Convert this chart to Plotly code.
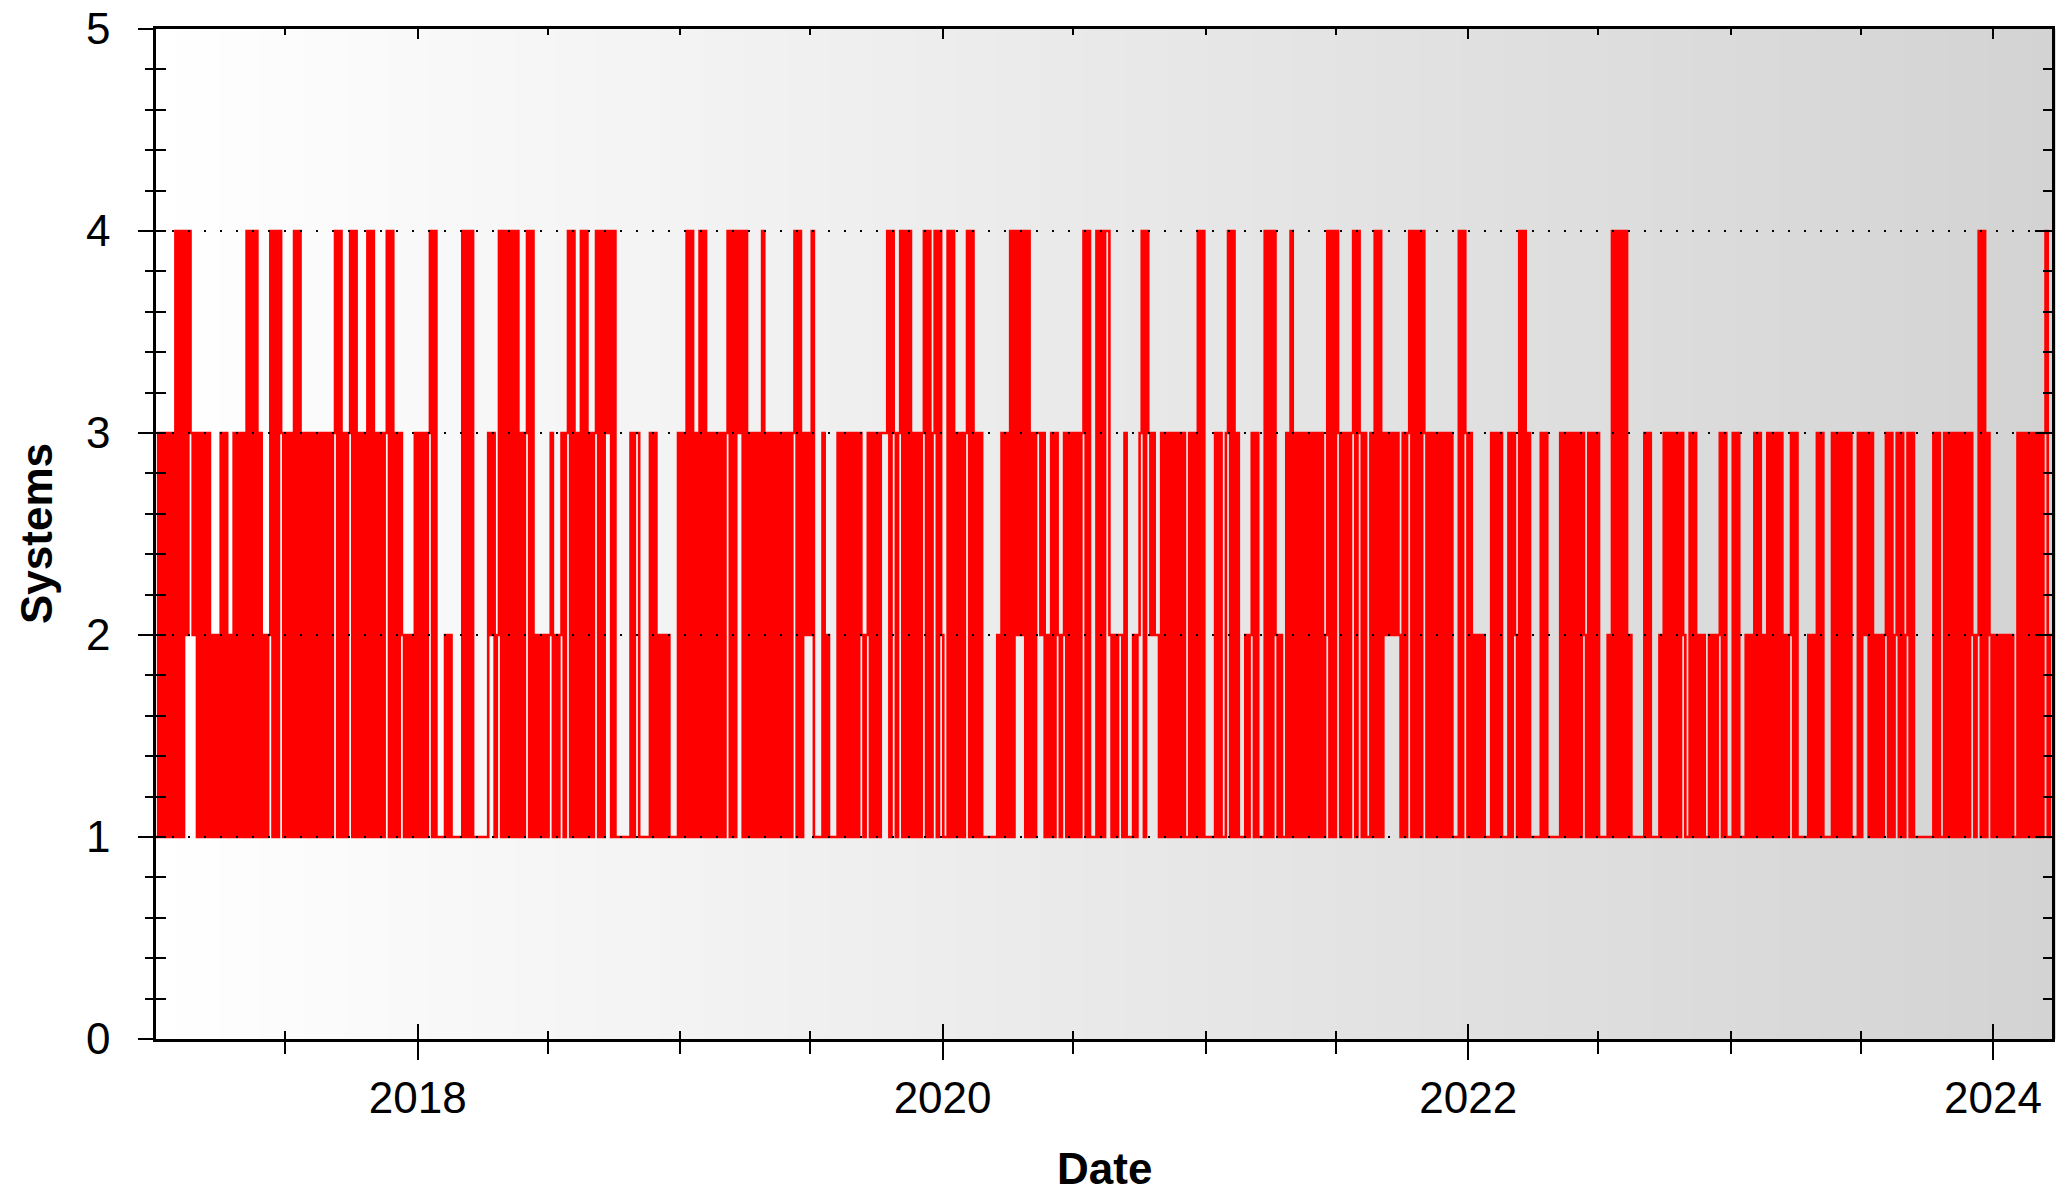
import pandas as pd
import plotly.graph_objects as go

# Number of systems in 3-day steps starting 2017-01-02
seg1 = ("131313131" "4141424" "32313" "13131" "21213" "13121" "313131" "414141"
        "31212" "414143" "13131" "4141313" "131313131313" "4141" "313" "414"
        "13131" "4141" "31313" "4141" "313")
seg2 = ("21212" "13131313" "414" "111" "12121" "1111" "41414" "1111111" "32312"
        "4141414141" "313" "4141" "212" "1" "212" "31" "212" "313" "4141" "31"
        "4141" "313" "41414" "3" "4141" "111111" "313")
seg3 = ("31" "1111" "3131" "2" "121" "21" "1" "11" "3131" "4141" "31" "4141"
        "313131313" "41414" "3" "414" "1313131" "41" "3131313131313" "4141"
        "3232" "41" "111" "3121" "111" "3131" "3131313" "212" "31")
seg4 = ("31313" "33" "414" "313" "41414" "131313" "4141" "3" "414" "21" "1"
        "4141" "313" "13" "414" "1313" "1111111" "2" "13131" "41424" "2" "4141"
        "313" "323" "12" "1313" "2" "12" "313131313" "414" "111" "41414")
seg5 = ("4" "21212" "21" "31" "11" "212" "3" "414" "3232" "21" "31313131313"
        "11" "3131" "4141" "1111" "313" "11" "3" "4141" "3" "111" "212" "3131"
        "11" "41414" "212" "11" "31" "41" "31313131313131" "2" "41414" "31")
seg6 = ("31313" "414" "313" "11" "31" "4141" "32323" "232" "1313" "4141414"
        "3131313131313" "111" "414" "3131" "21212" "111" "313131" "11" "313"
        "21" "4141" "31" "1111" "3131" "11111" "31313131")
seg7 = ("313" "21" "31313" "1111" "21" "41414141" "21" "11111" "3131" "111"
        "21" "313131313" "211" "3131" "2121" "1" "21212" "313" "111" "3131"
        "11" "2121" "3131" "21" "31313131" "212" "3131" "1111" "21")
seg8 = ("21" "313" "1111" "313131313" "111" "313" "2" "3131" "21212" "3131"
        "2" "3131" "2" "313" "111111111" "3131" "1" "3131313131313" "212"
        "4141" "3" "212121212121" "1" "313131" "3" "131313" "41" "22")

segments = [seg1, seg2, seg3, seg4, seg5, seg6, seg7, seg8]
systems = [int(c) for s in segments for c in s]
dates = pd.date_range(start="2017-01-02", periods=len(systems), freq="3D")

x_range = [dates[0], dates[-1]]
year_ticks_start = "2018-01-01"
y_range = [0, 5]
grid_levels = [1, 2, 3, 4]

FONT = "Liberation Sans, Arial, sans-serif"

fig = go.Figure()
fig.add_trace(go.Scatter(
    x=dates, y=systems, mode="lines",
    line=dict(color="#ff0000", width=2.6, shape="hv"),
    hoverinfo="skip", showlegend=False))

# invisible helpers so the overlay axes (frame ticks) are drawn
for xa, ya in [("x2", "y"), ("x3", "y"), ("x", "y2"), ("x", "y3")]:
    fig.add_trace(go.Scatter(x=[dates[0]], y=[0], mode="markers",
                             marker=dict(opacity=0), xaxis=xa, yaxis=ya,
                             hoverinfo="skip", showlegend=False))

# horizontal gradient background
n_bands = 90
shapes = []
for i in range(n_bands):
    f = (i + 0.5) / n_bands
    g = round(255 - f * 44)
    shapes.append(dict(type="rect", xref="x domain", yref="y domain",
                       x0=i / n_bands, x1=(i + 1) / n_bands + 0.002, y0=0, y1=1,
                       fillcolor=f"rgb({g},{g},{g})", line=dict(width=0),
                       layer="below"))
for lv in grid_levels:
    shapes.append(dict(type="line", xref="x domain", yref="y", x0=0, x1=1,
                       y0=lv, y1=lv,
                       line=dict(color="black", width=2, dash="2px,14px"),
                       layer="above"))

common_x = dict(type="date", range=x_range, tickmode="linear",
                tick0=year_ticks_start, dtick="M24", showgrid=False,
                zeroline=False, fixedrange=True, tickcolor="black", tickwidth=2,
                automargin=False)
common_y = dict(range=y_range, tickmode="linear", tick0=0, dtick=1,
                showgrid=False, zeroline=False, fixedrange=True,
                tickcolor="black", tickwidth=2, automargin=False)

fig.update_layout(
    width=2072, height=1194,
    margin=dict(l=156, r=20, t=29, b=155, pad=0),
    paper_bgcolor="white", plot_bgcolor="rgba(0,0,0,0)",
    showlegend=False,
    font=dict(family=FONT, size=44, color="black"),
    shapes=shapes,
    xaxis=dict(**common_x, tickformat="%Y", ticks="outside", ticklen=18,
               showline=True, linewidth=2.5, linecolor="black",
               ticklabelstandoff=0,
               minor=dict(dtick="M6", tick0="2017-01-01", ticks="outside",
                          ticklen=12, tickwidth=2, tickcolor="black",
                          showgrid=False)),
    xaxis2=dict(**common_x, overlaying="x", side="top", anchor="y",
                ticks="inside", ticklen=10, showticklabels=False,
                showline=True, linewidth=2.5, linecolor="black",
                minor=dict(dtick="M6", tick0="2017-01-01", ticks="inside",
                           ticklen=6, tickwidth=2, tickcolor="black",
                           showgrid=False)),
    xaxis3=dict(**common_x, overlaying="x", side="bottom", anchor="y",
                ticks="inside", ticklen=15, showticklabels=False,
                showline=False,
                minor=dict(dtick="M6", tick0="2017-01-01", ticks="inside",
                           ticklen=8, tickwidth=2, tickcolor="black",
                           showgrid=False)),
    yaxis=dict(**common_y, ticks="outside", ticklen=15, showline=True,
               linewidth=2.5, linecolor="black", ticklabelstandoff=19,
               minor=dict(dtick=0.2, ticks="outside", ticklen=8, tickwidth=2,
                          tickcolor="black", showgrid=False)),
    yaxis2=dict(**common_y, overlaying="y", side="right", anchor="x",
                ticks="inside", ticklen=17, showticklabels=False,
                showline=True, linewidth=2.5, linecolor="black",
                minor=dict(dtick=0.2, ticks="inside", ticklen=9, tickwidth=2,
                           tickcolor="black", showgrid=False)),
    yaxis3=dict(**common_y, overlaying="y", side="left", anchor="x",
                ticks="inside", ticklen=10, showticklabels=False,
                showline=False,
                minor=dict(dtick=0.2, ticks="inside", ticklen=10, tickwidth=2,
                           tickcolor="black", showgrid=False)),
    annotations=[
        dict(text="<b>Date</b>", xref="paper", yref="paper", x=0.5, y=0,
             xanchor="center", yanchor="middle", yshift=-129, showarrow=False,
             font=dict(family=FONT, size=44, color="black")),
        dict(text="<b>Systems</b>", xref="paper", yref="paper", x=0, y=0.5,
             xanchor="center", yanchor="middle", xshift=-120, textangle=-90,
             showarrow=False, font=dict(family=FONT, size=44, color="black")),
    ],
)

fig.write_html(
    "out.html",
    config={"displayModeBar": False},
    post_script="document.body.style.margin='0';"
                "document.body.style.overflow='hidden';",
)
